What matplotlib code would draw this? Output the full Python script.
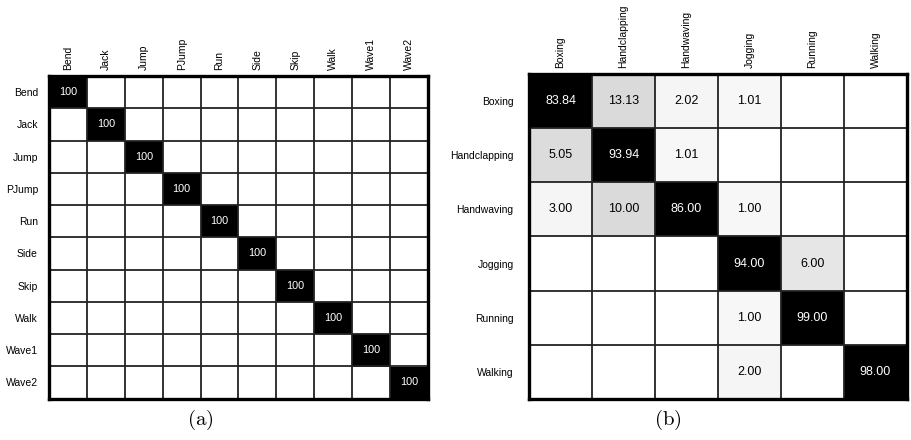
import matplotlib.pyplot as plt
import numpy as np

plt.rcParams['font.family'] = ['Liberation Sans', 'DejaVu Sans']
plt.rcParams['mathtext.fontset'] = 'cm'

# Weizmann actions: every class classified correctly
labels_a = ['Bend', 'Jack', 'Jump', 'PJump', 'Run', 'Side', 'Skip', 'Walk', 'Wave1', 'Wave2']
conf_a = np.diag([100] * 10)

# KTH actions (%)
labels_b = ['Boxing', 'Handclapping', 'Handwaving', 'Jogging', 'Running', 'Walking']
conf_b = np.array([
    [83.84, 13.13, 2.02, 1.01, 0, 0],
    [5.05, 93.94, 1.01, 0, 0, 0],
    [3.00, 10.00, 86.00, 1.00, 0, 0],
    [0, 0, 0, 94.00, 6.00, 0],
    [0, 0, 0, 1.00, 99.00, 0],
    [0, 0, 0, 2.00, 0, 98.00],
])

# grey level of each cell (1 = white, 0 = black)
grey_b = np.array([
    [0.0, 0.855, 0.96, 0.965, 1, 1],
    [0.86, 0.0, 0.965, 1, 1, 1],
    [0.96, 0.855, 0.0, 0.965, 1, 1],
    [1, 1, 1, 0.0, 0.90, 1],
    [1, 1, 1, 0.965, 0.0, 1],
    [1, 1, 1, 0.96, 1, 0.0],
])
grey_a = np.where(conf_a > 0, 0.0, 1.0)


def draw_matrix(ax, vals, grey, labels, fmt, fs_cell, fs_tick, ypad):
    n = len(labels)
    ax.imshow(grey, cmap='gray', vmin=0, vmax=1, aspect='auto',
              interpolation='nearest')
    for i in range(n):
        for j in range(n):
            if vals[i, j] > 0:
                c = 'white' if grey[i, j] < 0.5 else 'black'
                ax.text(j, i, fmt.format(vals[i, j]), ha='center', va='center',
                        color=c, fontsize=fs_cell)
    ax.set_xticks(np.arange(n))
    ax.set_yticks(np.arange(n))
    ax.set_xticklabels(labels, rotation=90, fontsize=fs_tick)
    ax.set_yticklabels(labels, fontsize=fs_tick)
    ax.xaxis.tick_top()
    ax.tick_params(length=0, pad=4.5)
    ax.tick_params(axis='y', pad=ypad)
    ax.set_xticks(np.arange(-0.5, n, 1), minor=True)
    ax.set_yticks(np.arange(-0.5, n, 1), minor=True)
    ax.grid(which='minor', color='#222222', linewidth=1.3)
    ax.tick_params(which='minor', length=0)
    for s in ax.spines.values():
        s.set_linewidth(2.4)
        s.set_color('black')


fig = plt.figure(figsize=(9.11, 4.40), dpi=100)
ax1 = fig.add_axes([0.0538, 0.0941, 0.4160, 0.7332])
ax2 = fig.add_axes([0.5807, 0.0932, 0.4149, 0.7386])

draw_matrix(ax1, conf_a, grey_a, labels_a, '{:.0f}', 7.8, 7.5, 8)
draw_matrix(ax2, conf_b, grey_b, labels_b, '{:.2f}', 9, 7.5, 11)

fig.text(0.2195, 0.045, r'$\mathrm{(a)}$', ha='center', va='center', fontsize=15)
fig.text(0.733, 0.045, r'$\mathrm{(b)}$', ha='center', va='center', fontsize=15)

plt.savefig('out.png', dpi=100)
